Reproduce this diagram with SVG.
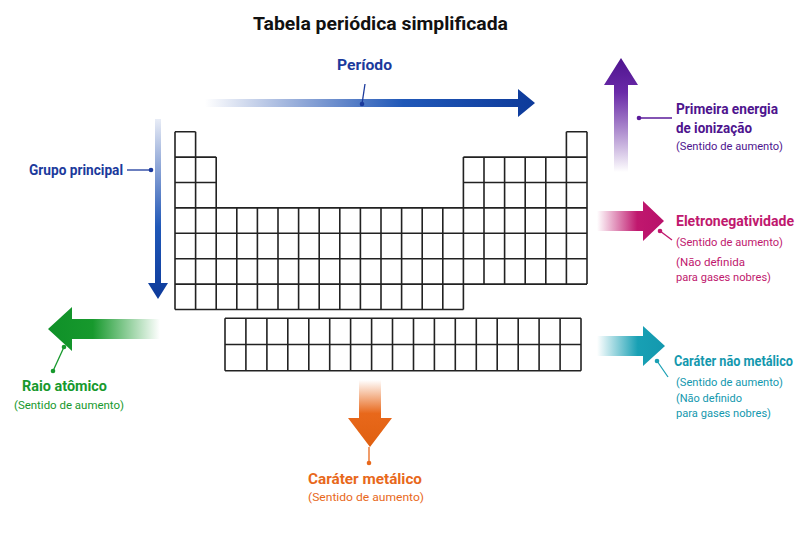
<svg xmlns="http://www.w3.org/2000/svg" width="800" height="533" viewBox="0 0 800 533">
<style>
text{font-family:Roboto,"Liberation Sans",sans-serif;font-weight:bold}
.s{font-weight:normal;font-size:11.5px}
.l{font-size:15px}
.grid{stroke:#222;stroke-width:1.6;fill:none}
.ld{stroke-width:1.3;fill:none}
</style>
<defs>
<linearGradient id="gP" x1="0" x2="1" y1="0" y2="0"><stop offset="0" stop-color="#1a45a8" stop-opacity="0"/><stop offset="0.6" stop-color="#2058b8"/><stop offset="1" stop-color="#0d3a9a"/></linearGradient>
<linearGradient id="gG" x1="0" x2="0" y1="0" y2="1"><stop offset="0" stop-color="#1a45a8" stop-opacity="0.1"/><stop offset="0.6" stop-color="#2058b8"/><stop offset="1" stop-color="#0d3a9a"/></linearGradient>
<linearGradient id="gI" x1="0" x2="0" y1="1" y2="0"><stop offset="0" stop-color="#5a1a9a" stop-opacity="0"/><stop offset="0.7" stop-color="#6a2aa8"/><stop offset="1" stop-color="#4e148e"/></linearGradient>
<linearGradient id="gE" x1="0" x2="1" y1="0" y2="0"><stop offset="0" stop-color="#c0186e" stop-opacity="0"/><stop offset="0.6" stop-color="#c0186e"/><stop offset="1" stop-color="#b8106a"/></linearGradient>
<linearGradient id="gN" x1="0" x2="1" y1="0" y2="0"><stop offset="0" stop-color="#18a0b4" stop-opacity="0"/><stop offset="0.6" stop-color="#18a0b4"/><stop offset="1" stop-color="#1398ae"/></linearGradient>
<linearGradient id="gR" x1="1" x2="0" y1="0" y2="0"><stop offset="0" stop-color="#17992d" stop-opacity="0"/><stop offset="0.6" stop-color="#17992d"/><stop offset="1" stop-color="#0f9028"/></linearGradient>
<linearGradient id="gM" x1="0" x2="0" y1="0" y2="1"><stop offset="0" stop-color="#e8681b" stop-opacity="0"/><stop offset="0.5" stop-color="#e8681b"/><stop offset="1" stop-color="#e06010"/></linearGradient>
</defs>
<rect width="800" height="533" fill="#fff"/>
<text x="253" y="30" font-size="19" textLength="255" lengthAdjust="spacingAndGlyphs" fill="#111">Tabela periódica simplificada</text>

<g id="table">
<path class="grid" d="M175 131.7H195.6M566.4 131.7H587M175 157.1H216.2M463.4 157.1H587M175 182.5H216.2M463.4 182.5H587M175 207.9H587M175 233.3H587M175 258.7H587M175 284.1H587M175 309.5H463.4
M175 131.7V309.5M195.6 131.7V309.5M216.2 157.1V309.5M236.8 207.9V309.5M257.4 207.9V309.5M278 207.9V309.5M298.6 207.9V309.5M319.2 207.9V309.5M339.8 207.9V309.5M360.4 207.9V309.5M381 207.9V309.5M401.6 207.9V309.5M422.2 207.9V309.5M442.8 207.9V309.5M463.4 157.1V309.5M484 157.1V284.1M504.6 157.1V284.1M525.2 157.1V284.1M545.8 157.1V284.1M566.4 131.7V284.1M587 131.7V284.1"/>
</g>
<g id="series">
<path class="grid" d="M225 318.3H581M225 344.5H581M225 370.7H581M225 318.3V370.7M245.9 318.3V370.7M266.9 318.3V370.7M287.8 318.3V370.7M308.8 318.3V370.7M329.7 318.3V370.7M350.6 318.3V370.7M371.6 318.3V370.7M392.5 318.3V370.7M413.5 318.3V370.7M434.4 318.3V370.7M455.3 318.3V370.7M476.3 318.3V370.7M497.2 318.3V370.7M518.2 318.3V370.7M539.1 318.3V370.7M560.1 318.3V370.7M581 318.3V370.7"/>
</g>

<g id="connectors">
<path d="M205 99H518V89L535 103L518 117V107H205Z" fill="url(#gP)"/>
<path d="M155 119H161V283H168L158 299L148 283H155Z" fill="url(#gG)"/>
<path d="M614 172V85H604L621 58L638 85H628V172Z" fill="url(#gI)"/>
<path d="M597 211H643V201L664 221L643 241V231H597Z" fill="url(#gE)"/>
<path d="M597 336H643V326L665 346L643 366V356H597Z" fill="url(#gN)"/>
<path d="M160 319H72V307L48 329L72 351V339H160Z" fill="url(#gR)"/>
<path d="M359 380H381V418H392L370 447L348 418H359Z" fill="url(#gM)"/>
<g class="ld">
<path d="M362 104L365 84" stroke="#1b3a9c"/>
<path d="M127 170H151" stroke="#1b3a9c"/>
<path d="M639 118H672" stroke="#5a1a9a"/>
<path d="M660 231L672 240" stroke="#c0186e"/>
<path d="M657 361L668 377" stroke="#1aa0b4"/>
<path d="M64 347L53 371" stroke="#17992d"/>
<path d="M369 447V463" stroke="#e8681b"/>
</g>
<circle cx="362" cy="104" r="2.3" fill="#1b3a9c"/>
<circle cx="151" cy="170" r="2.3" fill="#1b3a9c"/>
<circle cx="639" cy="118" r="2.3" fill="#5a1a9a"/>
<circle cx="660" cy="231" r="2.3" fill="#c0186e"/>
<circle cx="657" cy="361" r="2.3" fill="#1aa0b4"/>
<circle cx="64" cy="347" r="2.3" fill="#17992d"/>
<circle cx="53" cy="371" r="2.3" fill="#17992d"/>
<circle cx="369" cy="463" r="2.3" fill="#e8681b"/>
</g>

<g id="periodo"><text x="337" y="70" class="l" textLength="55" lengthAdjust="spacingAndGlyphs" fill="#1b3a9c">Período</text></g>
<g id="grupo"><text x="29" y="175" class="l" textLength="94" lengthAdjust="spacingAndGlyphs" fill="#1b3a9c">Grupo principal</text></g>
<g id="ionizacao" fill="#4e148e">
<text x="676" y="114" class="l" textLength="102" lengthAdjust="spacingAndGlyphs">Primeira energia</text>
<text x="676" y="133" class="l" textLength="76" lengthAdjust="spacingAndGlyphs">de ionização</text>
<text x="676" y="150" class="s" textLength="107" lengthAdjust="spacingAndGlyphs">(Sentido de aumento)</text>
</g>
<g id="eletroneg" fill="#c0186e">
<text x="676" y="226" class="l" textLength="118" lengthAdjust="spacingAndGlyphs">Eletronegatividade</text>
<text x="676" y="246" class="s" textLength="107" lengthAdjust="spacingAndGlyphs">(Sentido de aumento)</text>
<text x="676" y="266" class="s" textLength="69" lengthAdjust="spacingAndGlyphs">(Não definida</text>
<text x="676" y="281" class="s" textLength="95" lengthAdjust="spacingAndGlyphs">para gases nobres)</text>
</g>
<g id="naometal" fill="#1398ae">
<text x="674" y="366" class="l" textLength="119" lengthAdjust="spacingAndGlyphs">Caráter não metálico</text>
<text x="676" y="386" class="s" textLength="107" lengthAdjust="spacingAndGlyphs">(Sentido de aumento)</text>
<text x="676" y="402" class="s" textLength="66" lengthAdjust="spacingAndGlyphs">(Não definido</text>
<text x="676" y="417" class="s" textLength="95" lengthAdjust="spacingAndGlyphs">para gases nobres)</text>
</g>
<g id="raio" fill="#17992d">
<text x="22" y="391" class="l" textLength="85" lengthAdjust="spacingAndGlyphs">Raio atômico</text>
<text x="14" y="409" class="s" textLength="110" lengthAdjust="spacingAndGlyphs">(Sentido de aumento)</text>
</g>
<g id="metalico" fill="#e8681b">
<text x="308" y="484" class="l" textLength="114" lengthAdjust="spacingAndGlyphs">Caráter metálico</text>
<text x="308" y="501" class="s" textLength="116" lengthAdjust="spacingAndGlyphs">(Sentido de aumento)</text>
</g>
</svg>
